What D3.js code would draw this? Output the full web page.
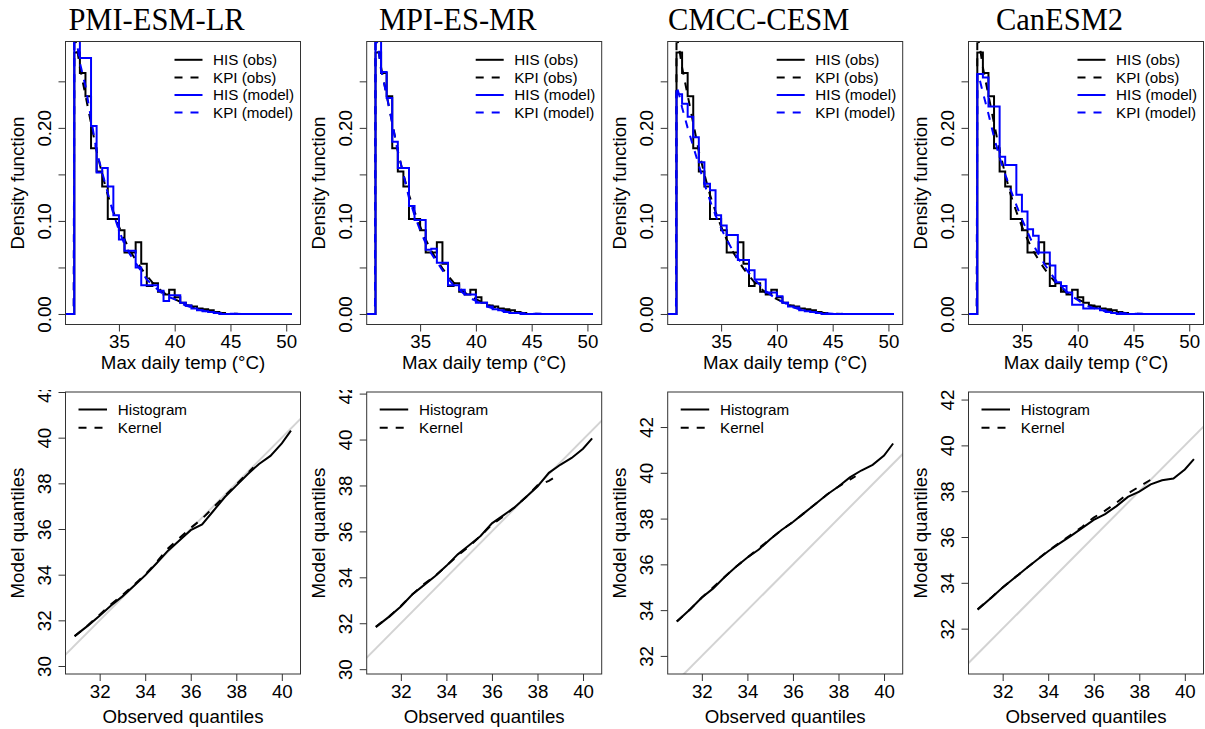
<!DOCTYPE html>
<html><head><meta charset="utf-8">
<script src="https://cdn.jsdelivr.net/npm/d3@7"></script>
<style>body{margin:0;background:#fff}svg{display:block}</style>
</head><body><svg id="c" width="1205" height="729"></svg>
<script>
// ---------------- data ----------------
const models = ["PMI-ESM-LR", "MPI-ES-MR", "CMCC-CESM", "CanESM2"];

// histogram bin edges (deg C)
const binEdges = [30.2, 31, 31.5, 32, 32.5, 33, 33.5, 34, 34.5, 35, 35.5, 36, 36.5, 37, 37.5, 38, 38.5, 39, 39.5, 40, 40.5,
  41, 41.5, 42, 42.5, 43, 43.5, 44, 44.5, 45, 45.5, 46, 46.5, 47, 47.5, 48, 48.5, 49, 49.5, 50, 50.5];

// HIS (obs): same observations in every panel
const hisObs = [0, 0.281, 0.259, 0.234, 0.178, 0.153, 0.137, 0.102, 0.102, 0.090, 0.066, 0.066, 0.077, 0.054, 0.030, 0.033, 0.024, 0.021, 0.026, 0.018, 0.012,
  0.009, 0.008, 0.006, 0.005, 0.004, 0.002, 0.001, 0, 0, 0, 0, 0, 0, 0, 0, 0, 0, 0, 0];
// HIS (model)
const hisPMI = [0, 0.320, 0.275, 0.275, 0.202, 0.152, 0.157, 0.137, 0.106, 0.080, 0.068, 0.068, 0.050, 0.031, 0.031, 0.031, 0.025, 0.014, 0.020, 0.020, 0.012,
  0.009, 0.006, 0.004, 0.003, 0.002, 0.001, 0, 0, 0, 0, 0, 0, 0, 0, 0, 0, 0, 0, 0];
const hisMPI = [0, 0.310, 0.260, 0.232, 0.185, 0.157, 0.157, 0.116, 0.101, 0.101, 0.069, 0.070, 0.055, 0.055, 0.031, 0.031, 0.026, 0.021, 0.021, 0.012, 0.012,
  0.008, 0.005, 0.004, 0.002, 0.001, 0.001, 0, 0, 0, 0, 0, 0, 0, 0, 0, 0, 0, 0, 0];
const hisCMCC = [0, 0.236, 0.226, 0.212, 0.190, 0.163, 0.140, 0.133, 0.106, 0.095, 0.085, 0.085, 0.058, 0.058, 0.047, 0.037, 0.037, 0.023, 0.023, 0.019, 0.012,
  0.008, 0.007, 0.004, 0.003, 0.002, 0.001, 0, 0, 0, 0, 0, 0, 0, 0, 0, 0, 0, 0, 0];
const hisCan = [0, 0.258, 0.254, 0.223, 0.223, 0.169, 0.160, 0.160, 0.128, 0.110, 0.091, 0.084, 0.066, 0.066, 0.052, 0.034, 0.030, 0.023, 0.010, 0.010, 0.006,
  0.006, 0.006, 0.004, 0.002, 0.001, 0, 0, 0, 0, 0, 0, 0, 0, 0, 0, 0, 0, 0, 0];

// KPI (kernel) curves
const kpiX = [30.2, 30.95, 31.0, 31.25, 31.5, 32, 32.5, 33, 33.5, 34, 34.5, 35, 35.5, 36, 36.5, 37, 37.5, 38, 38.5, 39, 39.5, 40, 40.5,
  41, 41.5, 42, 43, 44, 45, 46, 50.5];
const kpiObs = [0, 0, 0.300, 0.285, 0.265, 0.235, 0.205, 0.175, 0.150, 0.128, 0.110, 0.094, 0.080, 0.068, 0.058, 0.049, 0.041, 0.034, 0.028, 0.023, 0.019, 0.016, 0.013,
  0.010, 0.008, 0.006, 0.003, 0.0012, 0.0004, 0.0001, 0];
const kpiPMI = [0, 0, 0.310, 0.290, 0.270, 0.245, 0.210, 0.175, 0.152, 0.130, 0.108, 0.090, 0.075, 0.064, 0.055, 0.046, 0.037, 0.031, 0.026, 0.021, 0.018, 0.016, 0.012,
  0.009, 0.007, 0.005, 0.0025, 0.001, 0.0003, 0.0001, 0];
const kpiMPI = [0, 0, 0.300, 0.285, 0.262, 0.235, 0.205, 0.175, 0.150, 0.125, 0.106, 0.090, 0.076, 0.065, 0.056, 0.047, 0.038, 0.031, 0.026, 0.021, 0.017, 0.014, 0.011,
  0.008, 0.006, 0.004, 0.002, 0.001, 0.0003, 0.0001, 0];
const kpiCMCC = [0, 0, 0.245, 0.235, 0.222, 0.200, 0.180, 0.160, 0.140, 0.122, 0.106, 0.092, 0.080, 0.069, 0.060, 0.052, 0.044, 0.037, 0.031, 0.025, 0.020, 0.016, 0.013,
  0.010, 0.007, 0.005, 0.0025, 0.001, 0.0003, 0.0001, 0];
const kpiCan = [0, 0, 0.258, 0.250, 0.238, 0.215, 0.190, 0.168, 0.150, 0.133, 0.117, 0.102, 0.088, 0.075, 0.064, 0.054, 0.045, 0.037, 0.030, 0.024, 0.019, 0.015, 0.011,
  0.008, 0.006, 0.004, 0.002, 0.001, 0.0003, 0.0001, 0];

// QQ plots: observed quantiles vs model quantiles
const qqX = [30.9, 31.5, 32.0, 32.5, 33.0, 33.5, 34.0, 34.5, 35.0, 35.5, 36.0, 36.5, 37.0, 37.5, 38.0, 38.5, 39.0, 39.5, 40.0, 40.4];
const qqHistPMI = [31.31, 31.78, 32.2, 32.65, 33.05, 33.5, 33.97, 34.5, 35.05, 35.5, 35.95, 36.2, 36.8, 37.4, 37.9, 38.4, 38.85, 39.2, 39.75, 40.31];
const qqHistMPI = [31.83, 32.3, 32.73, 33.25, 33.65, 34.05, 34.5, 35.0, 35.4, 35.8, 36.35, 36.7, 37.05, 37.5, 37.95, 38.55, 38.9, 39.2, 39.6, 40.05];
const qqHistCMCC = [33.5, 34.05, 34.55, 34.95, 35.45, 35.9, 36.3, 36.65, 37.1, 37.5, 37.85, 38.25, 38.65, 39.05, 39.4, 39.8, 40.1, 40.35, 40.75, 41.28];
const qqHistCan = [32.83, 33.35, 33.8, 34.2, 34.6, 35.0, 35.38, 35.72, 36.05, 36.4, 36.75, 37.0, 37.35, 37.75, 37.98, 38.3, 38.48, 38.55, 38.95, 39.4];
const qqKernX = [30.9, 31.5, 32.0, 32.5, 33.0, 33.5, 34.0, 34.5, 35.0, 35.5, 36.0, 36.5, 37.0, 37.5, 38.0, 38.5, 38.75];
const qqKernPMI = [31.3, 31.8, 32.25, 32.7, 33.1, 33.55, 34.0, 34.55, 35.15, 35.6, 36.05, 36.45, 36.95, 37.45, 37.95, 38.45, 38.7];
const qqKernMPI = [31.85, 32.3, 32.75, 33.25, 33.7, 34.05, 34.5, 34.95, 35.35, 35.8, 36.3, 36.65, 37.05, 37.5, 38.0, 38.2, 38.35];
const qqKernCMCC = [33.5, 34.05, 34.55, 35.0, 35.45, 35.9, 36.3, 36.7, 37.1, 37.5, 37.85, 38.25, 38.65, 39.05, 39.4, 39.7, 39.85];
const qqKernCan = [32.85, 33.35, 33.8, 34.2, 34.6, 35.0, 35.4, 35.75, 36.1, 36.45, 36.85, 37.15, 37.5, 37.9, 38.2, 38.5, 38.65];

// axes
const densXTicks = [35, 40, 45, 50];
const densYTicks = [0, 0.05, 0.10, 0.15, 0.20, 0.25];
const densYLabels = ["0.00", "", "0.10", "", "0.20", ""];
const qqXTicks = [32, 34, 36, 38, 40];
const qqYTicks = [[30, 32, 34, 36, 38, 40, 42], [30, 32, 34, 36, 38, 40, 42], [32, 34, 36, 38, 40, 42], [32, 34, 36, 38, 40, 42]];
const densLegend = ["HIS (obs)", "KPI (obs)", "HIS (model)", "KPI (model)"];
const qqLegend = ["Histogram", "Kernel"];

const hisModel = [hisPMI, hisMPI, hisCMCC, hisCan];
const kpiModel = [kpiPMI, kpiMPI, kpiCMCC, kpiCan];
const qqHist = [qqHistPMI, qqHistMPI, qqHistCMCC, qqHistCan];
const qqKern = [qqKernPMI, qqKernMPI, qqKernCMCC, qqKernCan];

// ---------------- layout ----------------
const SANS = "'Liberation Sans', Arial, Helvetica, sans-serif";
const SERIF = "'Liberation Serif', 'Times New Roman', serif";
const FS = 18.7;
const LFS = 15.2;
const lefts = [65.5, 366.7, 667.7, 968.5];
const PW = 235;
const top1 = {T: 41.5, B: 324.5};
const top2 = {T: 392, B: 674};
const densXDom = [30.21, 51.28];
const densYDom = [-0.0113, 0.2928];
const qqXDom = [30.5, 40.82];
const qqYDom = [[29.65, 42.0], [29.79, 42.07], [31.21, 43.53], [30.02, 42.33]];
const DASH = "8,8";

const svg = d3.select("#c");
const defs = svg.append("defs");
defs.append("clipPath").attr("id", "lblclip").append("rect")
  .attr("x", 0).attr("y", 390).attr("width", 1205).attr("height", 339);

function frame(g, L, T, B) {
  g.append("rect").attr("x", L).attr("y", T).attr("width", PW).attr("height", B - T)
    .attr("fill", "none").attr("stroke", "#333").attr("stroke-width", 1);
}

function xAxis(g, x, B, ticks, labY) {
  const ax = g.append("g").attr("transform", `translate(0,${B})`)
    .call(d3.axisBottom(x).tickValues(ticks).tickSize(7).tickFormat(d3.format("d")));
  ax.select(".domain").remove();
  ax.selectAll(".tick line").attr("stroke", "#333");
  ax.selectAll(".tick text").attr("dy", null).attr("y", labY)
    .attr("font-family", SANS).attr("font-size", FS).attr("fill", "#000");
  ax.attr("font-family", null).attr("font-size", null);
}

function yAxis(g, y, L, ticks, labels, clip) {
  const ax = g.append("g").attr("transform", `translate(${L},0)`)
    .call(d3.axisLeft(y).tickValues(ticks).tickSize(7).tickFormat((d, i) => labels[i]));
  ax.select(".domain").remove();
  ax.selectAll(".tick line").attr("stroke", "#333");
  ax.selectAll(".tick text").attr("x", null).attr("dy", null)
    .attr("text-anchor", "middle").attr("transform", "translate(-15,0) rotate(-90)")
    .attr("font-family", SANS).attr("font-size", FS).attr("fill", "#000");
  ax.attr("font-family", null).attr("font-size", null);
  if (clip) {
    const wrap = g.append("g").attr("clip-path", "url(#lblclip)");
    wrap.node().appendChild(ax.node());
  }
}

models.forEach((name, i) => {
  const L = lefts[i];

  // ===== top: density panel =====
  const g1 = svg.append("g");
  const x1 = d3.scaleLinear().domain(densXDom).range([L, L + PW]);
  const y1 = d3.scaleLinear().domain(densYDom).range([top1.B, top1.T]);
  defs.append("clipPath").attr("id", "ct" + i).append("rect")
    .attr("x", L).attr("y", top1.T).attr("width", PW).attr("height", top1.B - top1.T);

  const stepLine = d3.line().x(d => x1(d[0])).y(d => y1(d[1])).curve(d3.curveStepAfter);
  const kLine = d3.line().x(d => x1(d[0])).y(d => y1(d[1]));
  const stepPts = vals => binEdges.map((e, k) => [e, k < vals.length ? vals[k] : vals[vals.length - 1]]);
  const kPts = vals => kpiX.map((e, k) => [e, vals[k]]);

  const plot1 = g1.append("g").attr("clip-path", `url(#ct${i})`);
  const series = [
    {d: stepLine(stepPts(hisObs)), c: "#000", dash: null},
    {d: kLine(kPts(kpiObs)), c: "#000", dash: DASH},
    {d: stepLine(stepPts(hisModel[i])), c: "#0000ff", dash: null},
    {d: kLine(kPts(kpiModel[i])), c: "#0000ff", dash: DASH}
  ];
  series.forEach(s => plot1.append("path").attr("d", s.d).attr("fill", "none")
    .attr("stroke", s.c).attr("stroke-width", 2).attr("stroke-dasharray", s.dash));

  frame(g1, L, top1.T, top1.B);
  xAxis(g1, x1, top1.B, densXTicks, 23);
  yAxis(g1, y1, L, densYTicks, densYLabels, false);

  // title
  g1.append("text").attr("x", L + 91).attr("y", 30).attr("text-anchor", "middle")
    .attr("font-family", SERIF).attr("font-size", 30.5).text(name);
  // axis titles
  g1.append("text").attr("x", L + PW / 2).attr("y", top1.B + 44).attr("text-anchor", "middle")
    .attr("font-family", SANS).attr("font-size", FS).text("Max daily temp (°C)");
  g1.append("text").attr("transform", `translate(${L - 42},${(top1.T + top1.B) / 2}) rotate(-90)`)
    .attr("text-anchor", "middle").attr("font-family", SANS).attr("font-size", FS).text("Density function");

  // legend
  const lc = ["#000", "#000", "#0000ff", "#0000ff"];
  const ld = [null, DASH, null, DASH];
  densLegend.forEach((t, k) => {
    const yy = top1.T + 18.3 + k * 17.6;
    g1.append("line").attr("x1", L + 109).attr("x2", L + 137).attr("y1", yy).attr("y2", yy)
      .attr("stroke", lc[k]).attr("stroke-width", 2).attr("stroke-dasharray", ld[k]);
    g1.append("text").attr("x", L + 147.5).attr("y", yy).attr("dy", "0.36em")
      .attr("font-family", SANS).attr("font-size", LFS).text(t);
  });

  // ===== bottom: QQ panel =====
  const g2 = svg.append("g");
  const x2 = d3.scaleLinear().domain(qqXDom).range([L, L + PW]);
  const y2 = d3.scaleLinear().domain(qqYDom[i]).range([top2.B, top2.T]);
  defs.append("clipPath").attr("id", "cb" + i).append("rect")
    .attr("x", L).attr("y", top2.T).attr("width", PW).attr("height", top2.B - top2.T);
  const plot2 = g2.append("g").attr("clip-path", `url(#cb${i})`);
  const diagLo = Math.min(qqXDom[0], qqYDom[i][0]) - 2, diagHi = Math.max(qqXDom[1], qqYDom[i][1]) + 2;
  plot2.append("line").attr("x1", x2(diagLo)).attr("y1", y2(diagLo)).attr("x2", x2(diagHi)).attr("y2", y2(diagHi))
    .attr("stroke", "#d3d3d3").attr("stroke-width", 2);
  const ql = d3.line().x(d => x2(d[0])).y(d => y2(d[1]));
  plot2.append("path").attr("d", ql(qqKernX.map((v, k) => [v, qqKern[i][k]])))
    .attr("fill", "none").attr("stroke", "#000").attr("stroke-width", 2).attr("stroke-dasharray", DASH);
  plot2.append("path").attr("d", ql(qqX.map((v, k) => [v, qqHist[i][k]])))
    .attr("fill", "none").attr("stroke", "#000").attr("stroke-width", 2);

  frame(g2, L, top2.T, top2.B);
  xAxis(g2, x2, top2.B, qqXTicks, 24);
  yAxis(g2, y2, L, qqYTicks[i], qqYTicks[i].map(String), true);

  g2.append("text").attr("x", L + PW / 2).attr("y", top2.B + 49).attr("text-anchor", "middle")
    .attr("font-family", SANS).attr("font-size", FS).text("Observed quantiles");
  g2.append("text").attr("transform", `translate(${L - 42},${(top2.T + top2.B) / 2}) rotate(-90)`)
    .attr("text-anchor", "middle").attr("font-family", SANS).attr("font-size", FS).text("Model quantiles");

  qqLegend.forEach((t, k) => {
    const yy = top2.T + 17.5 + k * 18.3;
    g2.append("line").attr("x1", L + 13).attr("x2", L + 41.5).attr("y1", yy).attr("y2", yy)
      .attr("stroke", "#000").attr("stroke-width", 2).attr("stroke-dasharray", k ? DASH : null);
    g2.append("text").attr("x", L + 52.3).attr("y", yy).attr("dy", "0.36em")
      .attr("font-family", SANS).attr("font-size", LFS).text(t);
  });
});
</script></body></html>
